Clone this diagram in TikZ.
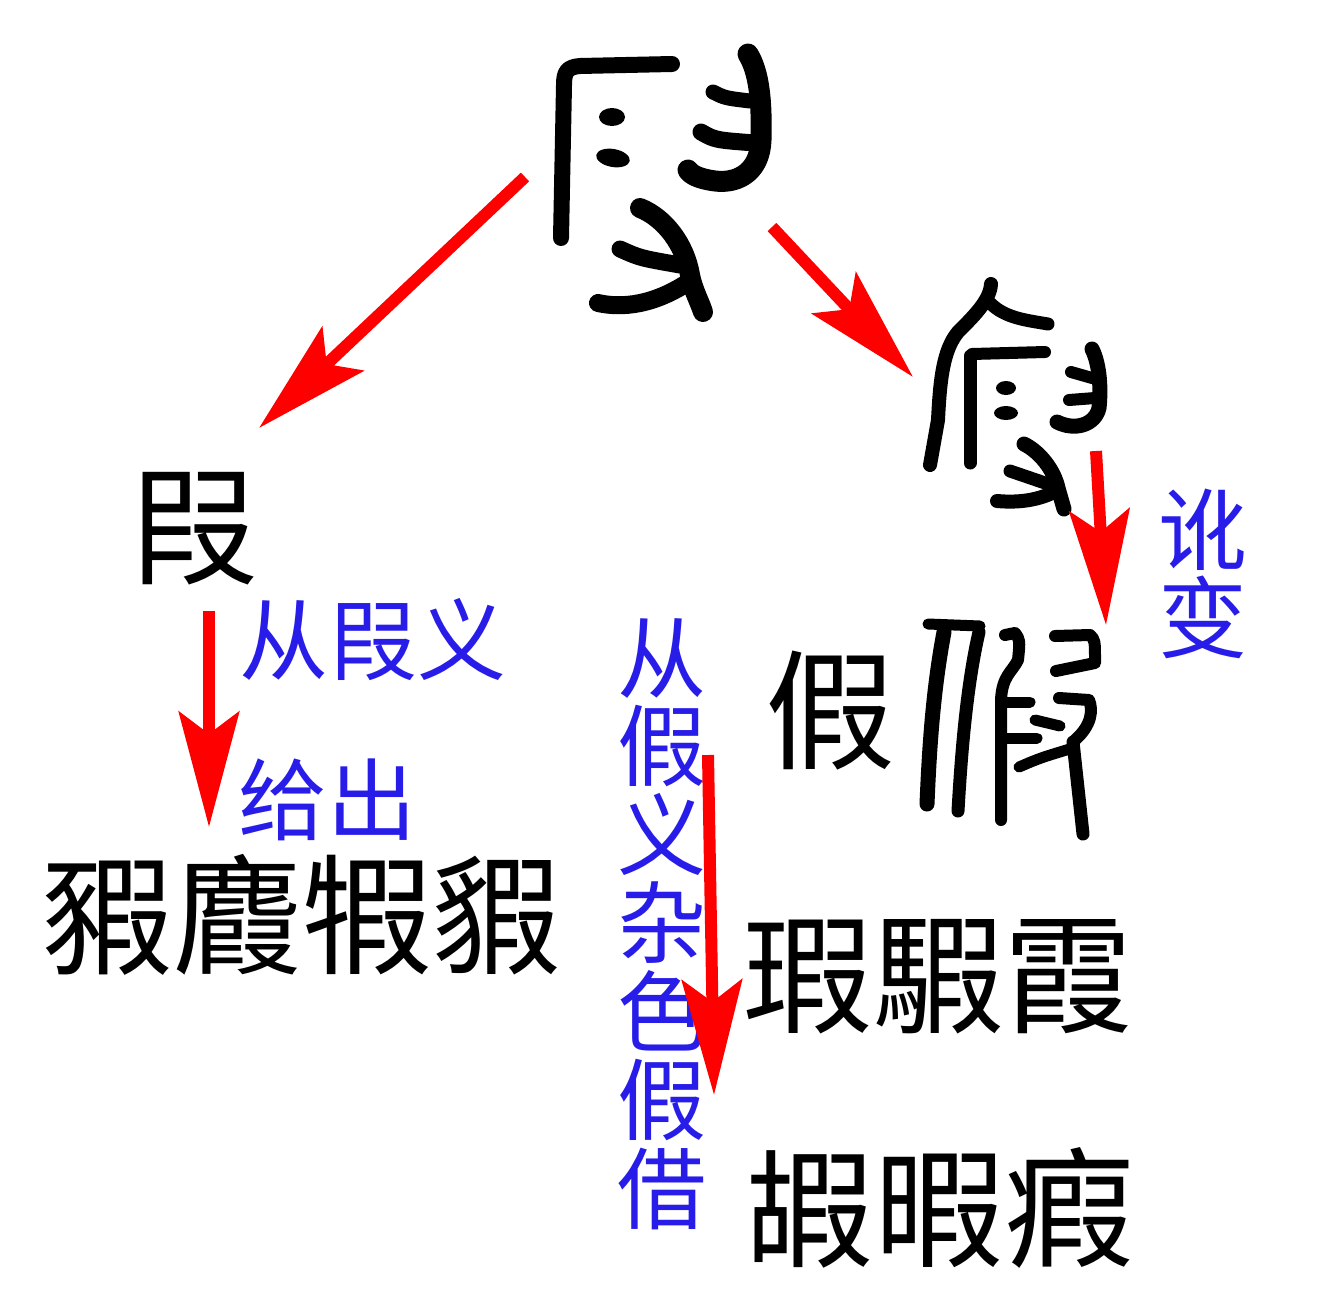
\documentclass[tikz,border=0pt]{standalone}
\usepackage{fontspec}
\newfontfamily\cjk{Noto Sans CJK SC}
\usetikzlibrary{arrows.meta}
\definecolor{lblue}{RGB}{40,28,232}
\begin{document}
\begin{tikzpicture}[x=1pt,y=-1pt,
  big/.style={font=\cjk\fontsize{130}{130}\selectfont, inner sep=0pt},
  lab/.style={font=\cjk\fontsize{89}{88.5}\selectfont, text=lblue, inner sep=0pt, align=center},
  redarr/.style={draw=red, line width=12pt, -{Stealth[length=115pt,width=60pt,inset=22pt]}},
  seal/.style={draw=black, line width=#1, line cap=round, line join=round},
  seal/.default=15pt,
  dotmark/.style={fill=black}]
\useasboundingbox (0,0) rectangle (1324,1301);

% ---------- seal glyph A (top) ----------
\draw[seal=16pt] (672,64) -- (580,66) .. controls (567,67) and (564,72) .. (564,85) -- (561,238);
\fill[dotmark] (612,117) ellipse [x radius=13, y radius=9];
\fill[dotmark,rotate around={-10:(613,158)}] (613,158) ellipse [x radius=17, y radius=9];
\draw[seal=21pt] (748,54) .. controls (759,72) and (762,100) .. (761,140) .. controls (760,170) and (740,184) .. (715,181) .. controls (700,179) and (691,175) .. (688,170);
\draw[seal=15pt] (713,92) .. controls (725,98) .. (750,101);
\draw[seal=17pt] (701,132) .. controls (715,140) .. (755,143);
\draw[seal=20pt] (640,208) .. controls (665,218) and (685,245) .. (690,275) .. controls (693,290) and (699,300) .. (703,312);
\draw[seal=17pt] (620,249) .. controls (640,258) .. (680,265);
\draw[seal=18pt] (598,303) .. controls (630,310) and (662,300) .. (690,281);

% ---------- seal glyph B (right) ----------
\draw[seal=14pt] (991,284) .. controls (990,300) and (975,315) .. (958,332) .. controls (943,350) and (940,380) .. (938,420) -- (930,465);
\draw[seal=13pt] (990,303) .. controls (1005,318) and (1025,320) .. (1048,324);
\draw[seal=12pt] (972,354) -- (1045,352);
\draw[seal=13pt] (970,356) -- (970,463);
\fill[dotmark] (1006,388) ellipse [x radius=10, y radius=7];
\fill[dotmark] (1006,413) ellipse [x radius=12, y radius=7];
\draw[seal=15pt] (1092,349) .. controls (1100,365) and (1101,390) .. (1099,408) .. controls (1095,425) and (1075,431) .. (1057,422);
\draw[seal=12pt] (1071,372) -- (1092,378);
\draw[seal=12pt] (1069,400) -- (1095,398);
\draw[seal=15pt] (1024,444) .. controls (1040,452) and (1054,470) .. (1058,488) -- (1064,509);
\draw[seal=13pt] (1010,471) -- (1048,484);
\draw[seal=14pt] (997,501) .. controls (1020,503) and (1040,500) .. (1058,490);

% ---------- seal glyph C (jia) ----------
\draw[seal=11pt] (928,624) -- (980,626);
\draw[seal=15pt] (944,632) .. controls (935,680) and (930,730) .. (927,804);
\draw[seal=13pt] (979,632) .. controls (968,680) and (962,740) .. (958,811);
\draw[seal=12pt] (1005,635) -- (1015,633) .. controls (1020,640) .. (1018,660) .. controls (1012,672) and (1002,676) .. (1001,700) -- (1001,820);
\draw[seal=11pt] (1001,702) -- (1030,702);
\draw[seal=11pt] (1001,738) -- (1037,738);
\draw[seal=12pt] (1055,636) -- (1090,635) .. controls (1095,640) .. (1095,663) -- (1056,671);
\draw[seal=12pt] (1059,698) -- (1089,700) .. controls (1093,710) and (1092,725) .. (1075,740);
\draw[seal=13pt] (1073,742) -- (1083,834);
\draw[seal=11pt] (1035,720) -- (1060,726);
\draw[seal=11pt] (1019,767) .. controls (1040,758) .. (1073,748);

% ---------- modern characters ----------
\node[big] (xia) at (193,529) {叚};
\node[big] (row1) at (302,915) {豭麚犌貑};
\node[big] (jia) at (830,711) {假};
\node[big] (row2) at (938,977) {瑕騢霞};
\node[big] (row3) at (939,1208) {嘏暇瘕};

% ---------- labels ----------
\node[lab] (l1) at (373,640) {从叚义};
\node[lab] (l2) at (327,800) {给出};
\node[lab] (l3) at (1203,574) {讹\\变};
\node[lab] (l4) at (662,924) {从\\假\\义\\杂\\色\\假\\借};

% ---------- arrows ----------
\coordinate (a1s) at (525,177); \coordinate (a1e) at (259,428);
\coordinate (a2s) at (772,227); \coordinate (a2e) at (913,377);
\coordinate (a3s) at (1096,451); \coordinate (a3e) at (1106,625);
\coordinate (a4s) at (209,611); \coordinate (a4e) at (209,827);
\coordinate (a5s) at (708,755); \coordinate (a5e) at (714,1095);
\draw[redarr] (a1s) -- (a1e);
\draw[redarr] (a2s) -- (a2e);
\draw[redarr] (a3s) -- (a3e);
\draw[redarr] (a4s) -- (a4e);
\draw[redarr] (a5s) -- (a5e);
\end{tikzpicture}
\end{document}
